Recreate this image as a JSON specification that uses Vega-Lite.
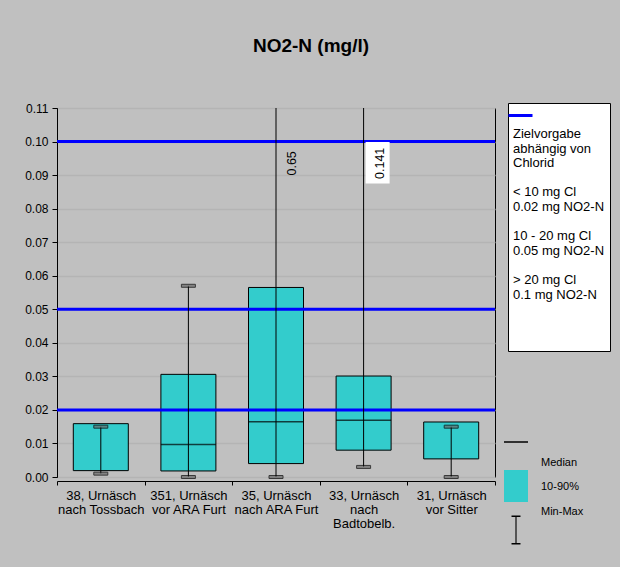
{
  "$schema": "https://vega.github.io/schema/vega-lite/v6.json",
  "width": 438,
  "height": 369,
  "autosize": {"type": "none"},
  "padding": {"left": 57, "top": 108, "right": 125, "bottom": 90},
  "background": "#c0c0c0",
  "config": {
    "font": "Liberation Sans",
    "view": {"fill": "white", "stroke": "black", "strokeWidth": 1},
    "axis": {"domainColor": "black", "tickColor": "black", "labelColor": "black", "domainWidth": 1, "tickWidth": 1},
    "axisX": {"labelAngle": 0, "labelFontSize": 13, "labelLineHeight": 14.3, "labelPadding": 4, "tickBand": "extent", "tickSize": 4, "labelLimit": 200, "labelOverlap": false, "labelBound": false, "grid": false},
    "axisY": {"grid": true, "gridColor": "#b4b4b4", "gridWidth": 1.5, "tickSize": 5, "labelFontSize": 12, "labelPadding": 4, "labelOverlap": false}
  },
  "title": {
    "text": "NO2-N (mg/l)",
    "fontSize": 19,
    "fontWeight": "bold",
    "color": "black",
    "anchor": "middle",
    "frame": "group",
    "dx": 35,
    "baseline": "middle",
    "offset": 37
  },
  "datasets": {
    "boxes": [
      {"site": "38, Urnäsch|nach Tossbach", "p10": 0.0019, "p90": 0.0159, "median": null, "min": 0.001, "max": 0.015},
      {"site": "351, Urnäsch|vor ARA Furt", "p10": 0.0018, "p90": 0.0306, "median": 0.0097, "min": 0.0, "max": 0.057},
      {"site": "35, Urnäsch|nach ARA Furt", "p10": 0.004, "p90": 0.0565, "median": 0.0165, "min": 0.0, "max": 0.65},
      {"site": "33, Urnäsch|nach|Badtobelb.", "p10": 0.008, "p90": 0.0301, "median": 0.0169, "min": 0.003, "max": 0.141},
      {"site": "31, Urnäsch|vor Sitter", "p10": 0.0054, "p90": 0.0164, "median": null, "min": 0.0, "max": 0.015}
    ],
    "targets": [{"v": 0.02}, {"v": 0.05}, {"v": 0.1}],
    "legsym": [{"k": "Median"}, {"k": "10-90%"}, {"k": "Min-Max"}],
    "legtxt": [{"t": "Median"}, {"t": "10-90%"}, {"t": "Min-Max"}]
  },
  "layer": [
    {
      "data": {"name": "boxes"},
      "mark": {"type": "bar", "width": 55, "fill": "#33cccc", "stroke": "black", "strokeWidth": 1},
      "encoding": {
        "x": {"field": "site", "type": "nominal", "sort": null, "title": null, "scale": {"paddingInner": 0, "paddingOuter": 0}, "axis": {"labelExpr": "split(datum.label, '|')", "offset": 4}},
        "y": {"field": "p10", "type": "quantitative", "title": null, "scale": {"domain": [0, 0.11], "nice": false, "zero": true}, "axis": {"values": [0, 0.01, 0.02, 0.03, 0.04, 0.05, 0.06, 0.07, 0.08, 0.09, 0.1, 0.11], "format": ".2f"}},
        "y2": {"field": "p90"}
      }
    },
    {
      "data": {"name": "boxes"},
      "mark": {"type": "tick", "size": 55, "thickness": 1.5, "color": "black"},
      "encoding": {
        "x": {"field": "site", "type": "nominal", "sort": null, "title": null, "axis": {"labelExpr": "split(datum.label, '|')", "offset": 4}},
        "y": {"field": "median", "type": "quantitative", "title": null, "axis": {"values": [0, 0.01, 0.02, 0.03, 0.04, 0.05, 0.06, 0.07, 0.08, 0.09, 0.1, 0.11], "format": ".2f"}}
      }
    },
    {
      "data": {"name": "targets"},
      "mark": {"type": "rule", "strokeWidth": 3},
      "encoding": {
        "y": {"field": "v", "type": "quantitative", "title": null, "axis": {"values": [0, 0.01, 0.02, 0.03, 0.04, 0.05, 0.06, 0.07, 0.08, 0.09, 0.1, 0.11], "format": ".2f"}},
        "stroke": {
          "datum": "Zielvorgabe",
          "type": "nominal",
          "scale": {"domain": ["Zielvorgabe"], "range": ["#0000ff"]},
          "legend": {
            "orient": "none",
            "legendX": 451,
            "legendY": -5,
            "direction": "vertical",
            "fillColor": "white",
            "strokeColor": "black",
            "padding": 5,
            "symbolType": "M-2,0H2",
            "symbolSize": 144,
            "symbolStrokeWidth": 3,
            "labelExpr": "''",
            "title": ["Zielvorgabe", "abhängig von", "Chlorid", "\u200b", "< 10 mg Cl", "0.02 mg NO2-N", "\u200b", "10 - 20 mg Cl", "0.05 mg NO2-N", "\u200b", "> 20 mg Cl", "0.1 mg NO2-N", "\u200b", "\u200b", "\u200b"],
            "titleOrient": "bottom",
            "titleFontWeight": "normal",
            "titleFontSize": 13,
            "titleLineHeight": 14.6,
            "titleColor": "black",
            "titleAnchor": "start",
            "titleAlign": "left",
            "titlePadding": 6,
            "titleLimit": 0
          }
        }
      }
    },
    {
      "data": {"name": "boxes"},
      "mark": {"type": "rule", "color": "black", "strokeWidth": 1, "clip": true},
      "encoding": {
        "x": {"field": "site", "type": "nominal", "sort": null, "title": null, "axis": {"labelExpr": "split(datum.label, '|')", "offset": 4}},
        "y": {"field": "min", "type": "quantitative", "title": null, "axis": {"values": [0, 0.01, 0.02, 0.03, 0.04, 0.05, 0.06, 0.07, 0.08, 0.09, 0.1, 0.11], "format": ".2f"}},
        "y2": {"field": "max"}
      }
    },
    {
      "data": {"name": "boxes"},
      "mark": {"type": "tick", "size": 14, "thickness": 3, "color": "#6a6a6a", "stroke": "black", "strokeWidth": 1},
      "encoding": {
        "x": {"field": "site", "type": "nominal", "sort": null, "title": null, "axis": {"labelExpr": "split(datum.label, '|')", "offset": 4}},
        "y": {"field": "min", "type": "quantitative", "title": null, "axis": {"values": [0, 0.01, 0.02, 0.03, 0.04, 0.05, 0.06, 0.07, 0.08, 0.09, 0.1, 0.11], "format": ".2f"}}
      }
    },
    {
      "data": {"name": "boxes"},
      "transform": [{"filter": "datum.max <= 0.11"}],
      "mark": {"type": "tick", "size": 14, "thickness": 3, "color": "#6a6a6a", "stroke": "black", "strokeWidth": 1},
      "encoding": {
        "x": {"field": "site", "type": "nominal", "sort": null, "title": null, "axis": {"labelExpr": "split(datum.label, '|')", "offset": 4}},
        "y": {"field": "max", "type": "quantitative", "title": null, "axis": {"values": [0, 0.01, 0.02, 0.03, 0.04, 0.05, 0.06, 0.07, 0.08, 0.09, 0.1, 0.11], "format": ".2f"}}
      }
    },
    {
      "data": {"name": "boxes"},
      "transform": [{"filter": "datum.max > 0.11 && datum.max < 0.5"}],
      "mark": {"type": "bar", "width": 24, "xOffset": 14, "color": "white"},
      "encoding": {
        "x": {"field": "site", "type": "nominal", "sort": null, "title": null, "axis": {"labelExpr": "split(datum.label, '|')", "offset": 4}},
        "y": {"datum": 0.0999, "type": "quantitative", "title": null, "axis": {"values": [0, 0.01, 0.02, 0.03, 0.04, 0.05, 0.06, 0.07, 0.08, 0.09, 0.1, 0.11], "format": ".2f"}},
        "y2": {"datum": 0.0875}
      }
    },
    {
      "data": {"name": "boxes"},
      "transform": [{"filter": "datum.max > 0.11"}],
      "mark": {"type": "text", "angle": 270, "fontSize": 12.5, "color": "black", "xOffset": 16, "align": "center", "baseline": "middle"},
      "encoding": {
        "x": {"field": "site", "type": "nominal", "sort": null, "title": null, "axis": {"labelExpr": "split(datum.label, '|')", "offset": 4}},
        "y": {"datum": 0.0935, "type": "quantitative", "title": null, "axis": {"values": [0, 0.01, 0.02, 0.03, 0.04, 0.05, 0.06, 0.07, 0.08, 0.09, 0.1, 0.11], "format": ".2f"}},
        "text": {"field": "max", "type": "nominal"}
      }
    },
    {
      "data": {"name": "legsym"},
      "mark": {"type": "point", "opacity": 0, "filled": true},
      "encoding": {
        "shape": {
          "field": "k",
          "type": "nominal",
          "scale": {
            "domain": ["Median", "10-90%", "Min-Max"],
            "range": [
              "M-0.75,-0.05H0.75V0.05H-0.75ZM-0.75,-1h0.001M-0.75,1h0.001",
              "M-0.75,-1H0.75V1H-0.75Z",
              "M-0.28,-0.9H0.28V-0.82H0.035V0.82H0.28V0.9H-0.28V0.82H-0.035V-0.82H-0.28ZM0,-1h0.001M0,1h0.001"
            ]
          },
          "legend": {
            "orient": "none",
            "legendX": 442,
            "legendY": 317,
            "direction": "vertical",
            "title": null,
            "padding": 0,
            "symbolSize": 1024,
            "rowPadding": 6,
            "labelExpr": "''",
            "labelOffset": 10,
            "labelFontSize": 11,
            "labelColor": "black",
            "symbolStrokeColor": "black",
            "symbolStrokeWidth": 1.5,
            "symbolOpacity": 1
          }
        },
        "fill": {
          "field": "k",
          "type": "nominal",
          "scale": {
            "domain": ["Median", "10-90%", "Min-Max"],
            "range": ["#000000", "#33cccc", "#000000"]
          },
          "legend": {
            "orient": "none",
            "legendX": 442,
            "legendY": 317,
            "direction": "vertical",
            "title": null,
            "padding": 0,
            "symbolSize": 1024,
            "rowPadding": 6,
            "labelExpr": "''",
            "labelOffset": 10,
            "labelFontSize": 11,
            "labelColor": "black",
            "symbolStrokeColor": "black",
            "symbolStrokeWidth": 1.5,
            "symbolOpacity": 1
          }
        }
      }
    },
    {
      "data": {"name": "legtxt"},
      "mark": {"type": "point", "opacity": 0},
      "encoding": {
        "color": {
          "field": "t",
          "type": "nominal",
          "sort": null,
          "scale": {"range": ["#000000", "#000000", "#000000"]},
          "legend": {
            "orient": "none",
            "legendX": 465,
            "legendY": 349,
            "direction": "vertical",
            "title": null,
            "padding": 0,
            "symbolSize": 4,
            "symbolOpacity": 0,
            "rowPadding": 12.5,
            "labelOffset": 8,
            "labelFontSize": 11,
            "labelColor": "black"
          }
        }
      }
    }
  ]
}
